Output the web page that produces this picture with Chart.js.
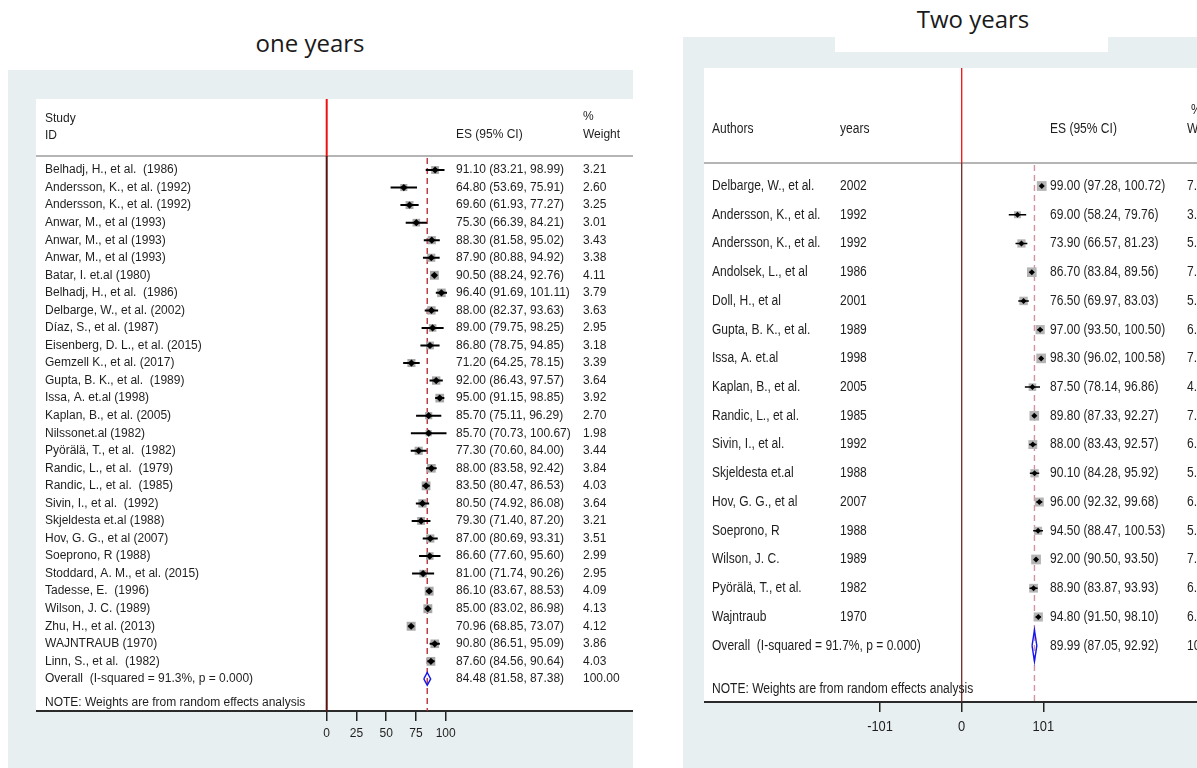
<!DOCTYPE html>
<html>
<head>
<meta charset="utf-8">
<script src="https://cdn.jsdelivr.net/npm/chart.js@4.4.1/dist/chart.umd.min.js"></script>
<style>
  html, body { margin: 0; padding: 0; background: #fff; }
  body { position: relative; width: 1197px; height: 768px; overflow: hidden; }
  .panel { position: absolute; background: #e8eff1; }
  .title { position: absolute; font-family: "Open Sans", "Noto Sans", sans-serif; font-size: 24px; line-height: 28px; color: #1a1a1a; white-space: nowrap; transform: translateX(-50%); }
  canvas { position: absolute; }
</style>
</head>
<body>
<div class="title" style="left:310px; top:29px;">one years</div>
<div class="panel" style="left:8px; top:70px; width:625px; height:698px;"></div>
<canvas id="oneYear" width="597" height="652" style="left:36px; top:99px;"></canvas>

<div class="panel" style="left:683px; top:37px; width:514px; height:731px;"></div>
<div style="position:absolute; left:835px; top:37px; width:273px; height:15px; background:#fff;"></div>
<div class="title" style="left:973px; top:5px;">Two years</div>
<canvas id="twoYear" width="596" height="679" style="left:704px; top:68px;"></canvas>

<script>
// ---- one year follow-up ----
const oneYearStudies = [
  'Belhadj, H., et al.  (1986)', 'Andersson, K., et al. (1992)', 'Andersson, K., et al. (1992)',
  'Anwar, M., et al (1993)', 'Anwar, M., et al (1993)', 'Anwar, M., et al (1993)',
  'Batar, I. et.al (1980)', 'Belhadj, H., et al.  (1986)', 'Delbarge, W., et al. (2002)',
  'Díaz, S., et al. (1987)', 'Eisenberg, D. L., et al. (2015)', 'Gemzell K., et al. (2017)',
  'Gupta, B. K., et al.  (1989)', 'Issa, A. et.al (1998)', 'Kaplan, B., et al. (2005)',
  'Nilssonet.al (1982)', 'Pyörälä, T., et al.  (1982)', 'Randic, L., et al.  (1979)',
  'Randic, L., et al.  (1985)', 'Sivin, I., et al.  (1992)', 'Skjeldesta et.al (1988)',
  'Hov, G. G., et al (2007)', 'Soeprono, R (1988)', 'Stoddard, A. M., et al. (2015)',
  'Tadesse, E.  (1996)', 'Wilson, J. C. (1989)', 'Zhu, H., et al. (2013)',
  'WAJNTRAUB (1970)', 'Linn, S., et al.  (1982)'
];
const oneYearES = [91.10, 64.80, 69.60, 75.30, 88.30, 87.90, 90.50, 96.40, 88.00, 89.00, 86.80, 71.20, 92.00, 95.00, 85.70,
  85.70, 77.30, 88.00, 83.50, 80.50, 79.30, 87.00, 86.60, 81.00, 86.10, 85.00, 70.96, 90.80, 87.60];
const oneYearLower = [83.21, 53.69, 61.93, 66.39, 81.58, 80.88, 88.24, 91.69, 82.37, 79.75, 78.75, 64.25, 86.43, 91.15, 75.11,
  70.73, 70.60, 83.58, 80.47, 74.92, 71.40, 80.69, 77.60, 71.74, 83.67, 83.02, 68.85, 86.51, 84.56];
const oneYearUpper = [98.99, 75.91, 77.27, 84.21, 95.02, 94.92, 92.76, 101.11, 93.63, 98.25, 94.85, 78.15, 97.57, 98.85, 96.29,
  100.67, 84.00, 92.42, 86.53, 86.08, 87.20, 93.31, 95.60, 90.26, 88.53, 86.98, 73.07, 95.09, 90.64];
const oneYearWeight = [3.21, 2.60, 3.25, 3.01, 3.43, 3.38, 4.11, 3.79, 3.63, 2.95, 3.18, 3.39, 3.64, 3.92, 2.70,
  1.98, 3.44, 3.84, 4.03, 3.64, 3.21, 3.51, 2.99, 2.95, 4.09, 4.13, 4.12, 3.86, 4.03];
const oneYearOverall = [84.48, 81.58, 87.38];
const oneYearOverallLabel = 'Overall  (I-squared = 91.3%, p = 0.000)';
const oneYearTicks = [0, 25, 50, 75, 100];

// ---- two year follow-up ----
const twoYearAuthors = [
  'Delbarge, W., et al.', 'Andersson, K., et al.', 'Andersson, K., et al.', 'Andolsek, L., et al',
  'Doll, H., et al', 'Gupta, B. K., et al.', 'Issa, A. et.al', 'Kaplan, B., et al.',
  'Randic, L., et al.', 'Sivin, I., et al.', 'Skjeldesta et.al', 'Hov, G. G., et al',
  'Soeprono, R', 'Wilson, J. C.', 'Pyörälä, T., et al.', 'Wajntraub'
];
const twoYearYears = ['2002', '1992', '1992', '1986', '2001', '1989', '1998', '2005', '1985', '1992', '1988', '2007', '1988', '1989', '1982', '1970'];
const twoYearES = [99.00, 69.00, 73.90, 86.70, 76.50, 97.00, 98.30, 87.50, 89.80, 88.00, 90.10, 96.00, 94.50, 92.00, 88.90, 94.80];
const twoYearLower = [97.28, 58.24, 66.57, 83.84, 69.97, 93.50, 96.02, 78.14, 87.33, 83.43, 84.28, 92.32, 88.47, 90.50, 83.87, 91.50];
const twoYearUpper = [100.72, 79.76, 81.23, 89.56, 83.03, 100.50, 100.58, 96.86, 92.27, 92.57, 95.92, 99.68, 100.53, 93.50, 93.93, 98.10];
const twoYearWeight = [7.61, 3.92, 5.48, 7.42, 5.68, 6.77, 7.43, 4.57, 7.36, 6.32, 5.46, 6.44, 5.21, 7.58, 6.11, 6.64];
const twoYearOverall = [89.99, 87.05, 92.92];
const twoYearOverallLabel = 'Overall  (I-squared = 91.7%, p = 0.000)';
const twoYearTicks = [-101, 0, 101];

const NOTE = 'NOTE: Weights are from random effects analysis';
const fmtCI = (e, l, h) => `${e.toFixed(2)} (${l.toFixed(2)}, ${h.toFixed(2)})`;

// text helper, sx squeezes the glyphs horizontally
function drawText(ctx, text, x, y, sx, align) {
  ctx.save();
  ctx.translate(x, y);
  ctx.scale(sx, 1);
  ctx.textAlign = align || 'left';
  ctx.textBaseline = 'middle';
  ctx.fillText(text, 0, 0);
  ctx.restore();
}

function makeForest(id, cfg) {
  const n = cfg.es.length;
  const oRow = n;

  // CI whiskers as one broken line (null y splits the segments)
  const ciPts = [];
  for (let i = 0; i < n; i++) {
    ciPts.push({ x: cfg.lo[i], y: i }, { x: cfg.hi[i], y: i }, { x: cfg.hi[i], y: null });
  }
  const estPts = cfg.es.map((v, i) => ({ x: v, y: i }));
  const [oEs, oLo, oHi] = cfg.overall;
  const diamond = [
    { x: oLo, y: oRow }, { x: oEs, y: oRow - cfg.diamondH }, { x: oHi, y: oRow },
    { x: oEs, y: oRow + cfg.diamondH }, { x: oLo, y: oRow }
  ];

  const decor = {
    id: 'forestDecor',
    beforeDraw(chart) {
      const { ctx, chartArea } = chart;
      ctx.save();
      ctx.fillStyle = '#fff';
      ctx.fillRect(0, 0, chart.width, chartArea.bottom);
      ctx.restore();
    },
    beforeDatasetsDraw(chart) {
      const { ctx, chartArea, scales: { x } } = chart;
      const x0 = x.getPixelForValue(0);
      const xo = x.getPixelForValue(oEs);
      ctx.save();
      // header rule
      ctx.strokeStyle = '#9c9c9c';
      ctx.lineWidth = 1.5;
      ctx.beginPath();
      ctx.moveTo(0, cfg.sepY); ctx.lineTo(chart.width, cfg.sepY);
      ctx.stroke();
      // null line
      ctx.lineWidth = cfg.zeroWidth;
      ctx.strokeStyle = '#f01010';
      ctx.beginPath();
      ctx.moveTo(x0, 0); ctx.lineTo(x0, cfg.sepY);
      ctx.stroke();
      ctx.strokeStyle = cfg.zeroColor;
      ctx.beginPath();
      ctx.moveTo(x0, cfg.sepY); ctx.lineTo(x0, chartArea.bottom);
      ctx.stroke();
      // overall estimate
      ctx.strokeStyle = cfg.dashColor;
      ctx.lineWidth = 1.4;
      ctx.setLineDash([6, 4]);
      ctx.beginPath();
      ctx.moveTo(xo, cfg.sepY + 2); ctx.lineTo(xo, chartArea.bottom);
      ctx.stroke();
      ctx.restore();
    },
    afterDraw(chart) {
      const { ctx, scales: { x, y } } = chart;
      ctx.save();
      ctx.font = cfg.font;
      ctx.fillStyle = '#1e1e1e';
      cfg.headers.forEach(h => drawText(ctx, h.text, h.x, h.y, cfg.sx));
      cfg.columns.forEach(col => {
        col.values.forEach((t, i) => drawText(ctx, t, col.x, y.getPixelForValue(i), cfg.sx));
      });
      cfg.overallRow.forEach(c => drawText(ctx, c.text, c.x, y.getPixelForValue(oRow), cfg.sx));
      drawText(ctx, NOTE, cfg.columns[0].x, y.getPixelForValue(cfg.noteRow), cfg.sx);
      ctx.font = cfg.tickFont;
      cfg.ticks.forEach(t => drawText(ctx, String(t), x.getPixelForValue(t), cfg.tickY, cfg.sx, 'center'));
      ctx.restore();
    }
  };

  return new Chart(document.getElementById(id), {
    type: 'scatter',
    data: {
      datasets: [
        { data: estPts, pointStyle: 'rectRot', pointRadius: cfg.markerR, backgroundColor: '#000', borderWidth: 0 },
        { data: ciPts, showLine: true, spanGaps: false, pointRadius: 0, borderColor: '#000', borderWidth: cfg.ciWidth },
        {
          data: estPts, pointStyle: 'rect', backgroundColor: cfg.boxColor, borderWidth: 0,
          pointRadius: c => cfg.boxK * Math.sqrt(cfg.weight[c.dataIndex])
        },
        { data: diamond, showLine: true, pointRadius: 0, borderColor: '#1414f0', borderWidth: 1.4, tension: 0 }
      ]
    },
    options: {
      responsive: false,
      animation: false,
      events: [],
      layout: { padding: 0, autoPadding: false },
      plugins: { legend: { display: false }, tooltip: { enabled: false } },
      scales: {
        x: {
          type: 'linear',
          min: cfg.xMin,
          max: cfg.xMax,
          afterBuildTicks: s => { s.ticks = cfg.ticks.map(v => ({ value: v })); },
          afterFit: s => { s.height = cfg.axisH; },
          ticks: { display: false },
          grid: { drawOnChartArea: false, drawTicks: true, tickLength: 10, color: '#222', lineWidth: 1.5 },
          border: { display: true, color: '#2a2a2a', width: 2 }
        },
        y: { type: 'linear', display: false, reverse: true, min: cfg.yMin, max: cfg.yMax }
      }
    },
    plugins: [decor]
  });
}

makeForest('oneYear', {
  es: oneYearES, lo: oneYearLower, hi: oneYearUpper, weight: oneYearWeight,
  overall: oneYearOverall, ticks: oneYearTicks,
  xMin: -244.3, xMax: 257.4, yMin: -4.046, yMax: 30.83, axisH: 40,
  sepY: 57, noteRow: 30.38, tickY: 635, diamondH: 0.37,
  font: '12px "Liberation Sans", Arial, sans-serif', tickFont: '12px "Liberation Sans", Arial, sans-serif', sx: 1,
  markerR: 3.6, ciWidth: 2, boxK: 3.1, boxColor: '#a8a8a8',
  zeroColor: '#5c1010', zeroWidth: 2, dashColor: '#b8323a',
  headers: [
    { text: 'Study', x: 9, y: 20 }, { text: 'ID', x: 9, y: 37 },
    { text: 'ES (95% CI)', x: 420, y: 36 },
    { text: '%', x: 547, y: 18 }, { text: 'Weight', x: 547, y: 36 }
  ],
  columns: [
    { x: 9, values: oneYearStudies },
    { x: 420, values: oneYearES.map((e, i) => fmtCI(e, oneYearLower[i], oneYearUpper[i])) },
    { x: 547, values: oneYearWeight.map(w => w.toFixed(2)) }
  ],
  overallRow: [
    { x: 9, text: oneYearOverallLabel },
    { x: 420, text: fmtCI(...oneYearOverall) },
    { x: 547, text: '100.00' }
  ]
});

makeForest('twoYear', {
  es: twoYearES, lo: twoYearLower, hi: twoYearUpper, weight: twoYearWeight,
  overall: twoYearOverall, ticks: twoYearTicks,
  xMin: -318.8, xMax: 418.5, yMin: -4.107, yMax: 17.96, axisH: 45,
  sepY: 95, noteRow: 17.5, tickY: 659, diamondH: 0.55,
  font: '14px "Liberation Sans", Arial, sans-serif', tickFont: '15px "Liberation Sans", Arial, sans-serif', sx: 0.86,
  markerR: 3, ciWidth: 1.5, boxK: 2.5, boxColor: '#b4b4b4',
  zeroColor: '#6e2a2a', zeroWidth: 1.3, dashColor: '#d3949f',
  headers: [
    { text: 'Authors', x: 8, y: 61 }, { text: 'years', x: 136, y: 61 },
    { text: 'ES (95% CI)', x: 346, y: 61 },
    { text: '%', x: 487, y: 42 }, { text: 'Weight', x: 483, y: 61 }
  ],
  columns: [
    { x: 8, values: twoYearAuthors },
    { x: 136, values: twoYearYears },
    { x: 346, values: twoYearES.map((e, i) => fmtCI(e, twoYearLower[i], twoYearUpper[i])) },
    { x: 483, values: twoYearWeight.map(w => w.toFixed(2)) }
  ],
  overallRow: [
    { x: 8, text: twoYearOverallLabel },
    { x: 346, text: fmtCI(...twoYearOverall) },
    { x: 483, text: '100.00' }
  ]
});
</script>
</body>
</html>
